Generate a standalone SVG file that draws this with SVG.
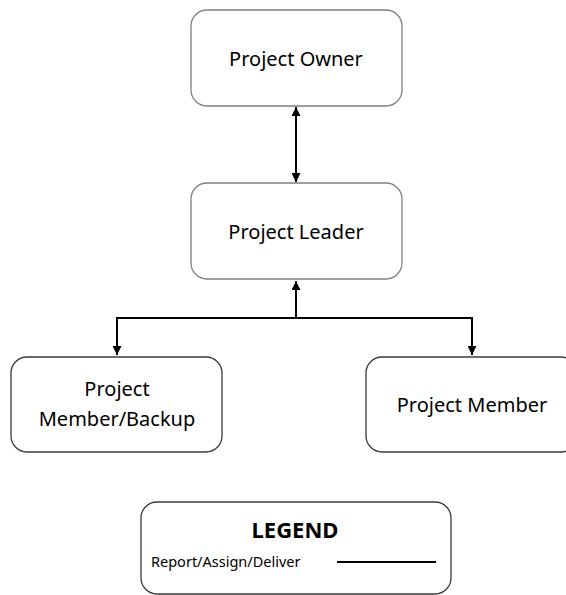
<svg xmlns="http://www.w3.org/2000/svg" width="566" height="595" viewBox="0 0 566 595">
<style>
.box{fill:#fff;stroke-width:1.3}
.gray{stroke:#808080}
.dark{stroke:#3a3a3a}
.t{font-family:"Noto Sans","Open Sans",sans-serif;font-size:20px;fill:#000;text-anchor:middle}
.c{fill:none;stroke:#000;stroke-width:2}
</style>
<defs>
<marker id="ah" viewBox="0 0 10 10" refX="10" refY="5" markerWidth="4.5" markerHeight="4.5" orient="auto-start-reverse" markerUnits="strokeWidth">
<path d="M0,0 L10,5 L0,10 z" fill="#000"/>
</marker>
</defs>
<rect width="566" height="595" fill="#fff"/>
<g id="connectors">
<line class="c" x1="296" y1="107" x2="296" y2="182" marker-start="url(#ah)" marker-end="url(#ah)"/>
<line class="c" x1="296" y1="318" x2="296" y2="281" marker-end="url(#ah)"/>
<polyline class="c" points="117,355 117,318 472,318 472,355" marker-start="url(#ah)" marker-end="url(#ah)"/>
</g>
<g id="owner">
<rect class="box gray" x="191" y="10" width="211" height="96" rx="16"/>
<text class="t" x="296" y="66">Project Owner</text>
</g>
<g id="leader">
<rect class="box gray" x="191" y="183" width="211" height="96" rx="16"/>
<text class="t" x="296" y="239">Project Leader</text>
</g>
<g id="backup">
<rect class="box dark" x="11" y="357" width="211" height="95" rx="16"/>
<text class="t" x="117" y="396">Project</text>
<text class="t" x="117" y="426">Member/Backup</text>
</g>
<g id="member">
<rect class="box dark" x="366" y="357" width="211" height="95" rx="16"/>
<text class="t" x="472" y="412">Project Member</text>
</g>
<g id="legend">
<rect class="box dark" x="141" y="502" width="310" height="92" rx="16"/>
<text x="295" y="538" style="font-family:'Noto Sans','Open Sans',sans-serif;font-size:22px;font-weight:bold;text-anchor:middle">LEGEND</text>
<text x="151" y="567" style="font-family:'Noto Sans','Open Sans',sans-serif;font-size:14.5px">Report/Assign/Deliver</text>
<line x1="337" y1="562" x2="436" y2="562" stroke="#000" stroke-width="2"/>
</g>
</svg>
